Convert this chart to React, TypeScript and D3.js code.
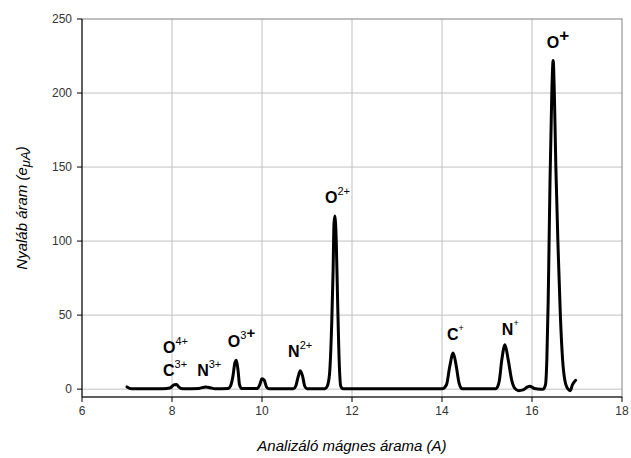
import React from "react";
import * as d3 from "d3";

// Beam current spectrum: analyzing magnet current (A) vs beam current (eμA)
const magnetCurrent = [
  7.0, 7.1, 7.5, 7.8, 7.95, 8.05, 8.1, 8.15, 8.2, 8.3, 8.6, 8.75, 8.85, 8.95,
  9.25, 9.3, 9.35, 9.4, 9.43, 9.47, 9.5, 9.55, 9.9, 9.95, 10.0, 10.05, 10.1, 10.15,
  10.7, 10.75, 10.8, 10.85, 10.9, 10.95, 11.0, 11.4, 11.45, 11.5, 11.55, 11.58,
  11.6, 11.62, 11.65, 11.68, 11.72, 11.75, 11.8, 13.0, 14.0, 14.1, 14.17, 14.25,
  14.32, 14.38, 14.45, 15.2, 15.27, 15.33, 15.4, 15.47, 15.55, 15.62, 15.7, 15.8,
  15.9, 15.95, 16.05, 16.2, 16.25, 16.3, 16.33, 16.36, 16.4, 16.44, 16.47, 16.5,
  16.53, 16.58, 16.63, 16.68, 16.73, 16.8, 16.85, 16.9, 16.97,
];
const beamCurrent = [
  1.5, 0.3, 0.2, 0.3, 0.8, 3.0, 3.2, 1.5, 0.5, 0.2, 0.5, 1.5, 1.0, 0.3,
  0.5, 2.0, 8.0, 18.0, 19.5, 12.0, 3.0, 0.5, 0.5, 3.0, 7.0, 6.0, 1.5, 0.3,
  0.3, 2.0, 8.0, 12.5, 9.0, 2.0, 0.3, 0.3, 2.0, 10.0, 45.0, 80.0,
  112.0, 117.0, 100.0, 60.0, 15.0, 2.0, 0.2, 0.2, 0.2, 3.0, 15.0, 24.5,
  15.0, 4.0, 0.3, 0.3, 5.0, 20.0, 30.0, 20.0, 6.0, 0.5, -1.0, -0.5,
  1.5, 2.0, 0.5, 0.0, 0.0, 3.0, 20.0, 60.0, 140.0, 200.0, 222.0, 195.0,
  150.0, 95.0, 50.0, 20.0, 6.0, 0.0, -1.0, 3.0, 6.0,
];

const xTicks = [6, 8, 10, 12, 14, 16, 18];
const yTicks = [0, 50, 100, 150, 200, 250];

// Peak labels: ion, charge superscript, anchor (data units)
const labelIon = ["O", "O", "C", "N", "N", "O", "O", "C", "N"];
const labelCharge = ["+", "2+", "+", "+", "2+", "3+", "4+", "3+", "3+"];
const labelX = [16.33, 11.4, 14.11, 15.33, 10.58, 9.24, 7.8, 7.8, 8.56];
const labelY = [230.5, 125.9, 33.5, 36.8, 22.0, 28.7, 24.7, 9.2, 9.2];

const W = 631;
const H = 458;
const left = 82;
const right = 622;
const top = 19;
const bottom = 397;

export default function App() {
  const x = d3.scaleLinear().domain([6, 18]).range([left, right]);
  const y = d3.scaleLinear().domain([-5.3, 250]).range([bottom, top]);

  const pts: [number, number][] = magnetCurrent.map((m, i) => [m, beamCurrent[i]]);
  const line = d3
    .line<[number, number]>()
    .x((d) => x(d[0]))
    .y((d) => y(d[1]))
    .curve(d3.curveMonotoneX);

  const font = "'Liberation Sans', Arial, sans-serif";

  const renderLabel = (i: number) => {
    const ion = labelIon[i];
    const ch = labelCharge[i];
    const px = x(labelX[i]);
    const py = y(labelY[i]);
    const bigPlus = (ion === "O" && (ch === "+" || ch === "3+"));
    const tinyPlus = ch === "+" && !bigPlus;
    return (
      <text key={i} x={px} y={py} fontFamily={font} fontSize={16} fontWeight="bold" fill="#000">
        {ion}
        {ch === "+" && bigPlus && (
          <tspan dy={-7} fontSize={17} fontWeight="bold">+</tspan>
        )}
        {tinyPlus && (
          <tspan dy={-9} fontSize={9} fontWeight="normal">+</tspan>
        )}
        {ch === "3+" && ion === "O" && (
          <>
            <tspan dy={-8} fontSize={11} fontWeight="normal">3</tspan>
            <tspan dy={-1} fontSize={15} fontWeight="bold">+</tspan>
          </>
        )}
        {ch.length === 2 && !(ch === "3+" && ion === "O") && (
          <tspan dy={-8} fontSize={11} fontWeight="normal">{ch}</tspan>
        )}
      </text>
    );
  };

  return (
    <svg width={W} height={H} style={{ position: "absolute", left: 0, top: 0 }}>
      <rect x={0} y={0} width={W} height={H} fill="#fff" />
      {/* gridlines */}
      {yTicks.filter((t) => t > 0 && t < 250).concat([0]).map((t) => (
        <line key={"gy" + t} x1={left} x2={right} y1={y(t)} y2={y(t)} stroke="#c0c0c0" strokeWidth={1} />
      ))}
      {xTicks.filter((t) => t > 6 && t < 18).map((t) => (
        <line key={"gx" + t} x1={x(t)} x2={x(t)} y1={top} y2={bottom} stroke="#c0c0c0" strokeWidth={1} />
      ))}
      {/* plot frame */}
      <rect x={left} y={top} width={right - left} height={bottom - top} fill="none" stroke="#808080" strokeWidth={1} />
      {/* axes */}
      <line x1={left} x2={left} y1={top} y2={bottom} stroke="#000" strokeWidth={1} />
      <line x1={left} x2={right} y1={bottom} y2={bottom} stroke="#000" strokeWidth={1} />
      {yTicks.map((t) => (
        <g key={"ty" + t}>
          <line x1={left - 5} x2={left} y1={y(t)} y2={y(t)} stroke="#000" />
          <text x={left - 10} y={y(t)} dy="0.35em" textAnchor="end" fontFamily={font} fontSize={12} fill="#333">
            {t}
          </text>
        </g>
      ))}
      {xTicks.map((t) => (
        <g key={"tx" + t}>
          <line x1={x(t)} x2={x(t)} y1={bottom} y2={bottom + 5} stroke="#000" />
          <text x={x(t)} y={bottom + 18} textAnchor="middle" fontFamily={font} fontSize={12} fill="#333">
            {t}
          </text>
        </g>
      ))}
      {/* data line */}
      <path d={line(pts) || ""} fill="none" stroke="#000" strokeWidth={3} strokeLinejoin="round" strokeLinecap="round" />
      {/* peak labels */}
      {labelIon.map((_, i) => renderLabel(i))}
      {/* axis titles */}
      <text
        x={(left + right) / 2}
        y={451}
        textAnchor="middle"
        fontFamily={font}
        fontSize={15}
        fontStyle="italic"
        fill="#000"
      >
        Analizáló mágnes árama (A)
      </text>
      <text
        transform={`translate(27, ${(top + bottom) / 2}) rotate(-90)`}
        textAnchor="middle"
        fontFamily={font}
        fontSize={15}
        fontStyle="italic"
        fill="#000"
      >
        Nyaláb áram (e
        <tspan dy={3} fontSize={13}>μA</tspan>
        <tspan dy={-3}>)</tspan>
      </text>
    </svg>
  );
}
